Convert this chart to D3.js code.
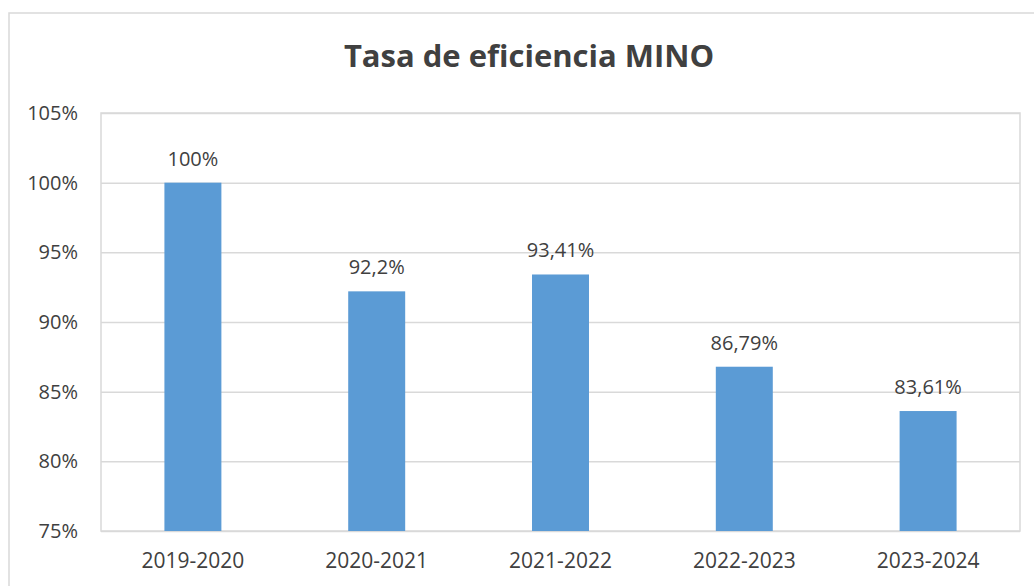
<!DOCTYPE html>
<html>
<head>
<meta charset="utf-8">
<script src="https://cdn.jsdelivr.net/npm/d3@7"></script>
<style>
  html, body { margin: 0; padding: 0; background: #fff; }
  svg { display: block; }
</style>
</head>
<body>
<div id="chart"></div>
<script>
// Tasa de eficiencia MINO -- simple column chart

var categories = ['2019-2020', '2020-2021', '2021-2022', '2022-2023', '2023-2024'];
var values = [100, 92.2, 93.41, 86.79, 83.61];
var valueLabels = ['100%', '92,2%', '93,41%', '86,79%', '83,61%'];
var yTicks = [75, 80, 85, 90, 95, 100, 105];

var WIDTH = 1034;
var HEIGHT = 586;
var PLOT_LEFT = 101;
var PLOT_RIGHT = 1020;
var PLOT_TOP = 113;
var PLOT_BOTTOM = 531;
var FONT = '"Open Sans", "DejaVu Sans", sans-serif';
var TEXT_COLOR = '#404040';
var GRID_COLOR = '#d9d9d9';
var BAR_COLOR = '#5b9bd5';

var svg = d3.select('#chart').append('svg')
  .attr('width', WIDTH)
  .attr('height', HEIGHT)
  .style('font-family', FONT);

// outer chart frame (runs off the right and bottom edges in the reference)
svg.append('rect')
  .attr('x', 9)
  .attr('y', 13)
  .attr('width', 1045)
  .attr('height', 600)
  .attr('fill', '#fff')
  .attr('stroke', GRID_COLOR)
  .attr('stroke-width', 1.5);

svg.append('text')
  .attr('x', 529)
  .attr('y', 67)
  .attr('text-anchor', 'middle')
  .attr('fill', TEXT_COLOR)
  .attr('font-size', '31px')
  .attr('font-weight', 'bold')
  .text('Tasa de eficiencia MINO');

var x = d3.scaleBand()
  .domain(categories)
  .range([PLOT_LEFT, PLOT_RIGHT])
  .paddingInner(0.69)
  .paddingOuter(0.345);

var y = d3.scaleLinear()
  .domain([75, 105])
  .range([PLOT_BOTTOM, PLOT_TOP]);

// gridlines + y labels
var yAxis = d3.axisLeft(y)
  .tickValues(yTicks)
  .tickSize(-(PLOT_RIGHT - PLOT_LEFT))
  .tickPadding(23)
  .tickFormat(function(d) { return d + '%'; });

var yG = svg.append('g')
  .attr('transform', 'translate(' + PLOT_LEFT + ',0)')
  .call(yAxis);
yG.select('.domain').remove();
yG.selectAll('.tick line')
  .attr('stroke', GRID_COLOR)
  .attr('stroke-width', 1.5);
yG.selectAll('.tick text')
  .attr('fill', TEXT_COLOR)
  .attr('font-size', '20px')
  .attr('font-family', FONT);

// plot area border
svg.append('rect')
  .attr('x', PLOT_LEFT)
  .attr('y', PLOT_TOP)
  .attr('width', PLOT_RIGHT - PLOT_LEFT)
  .attr('height', PLOT_BOTTOM - PLOT_TOP)
  .attr('fill', 'none')
  .attr('stroke', GRID_COLOR)
  .attr('stroke-width', 1.5);

// bars
svg.append('g').selectAll('rect')
  .data(values)
  .enter().append('rect')
  .attr('x', function(d, i) { return x(categories[i]); })
  .attr('y', function(d) { return y(d); })
  .attr('width', x.bandwidth())
  .attr('height', function(d) { return y(75) - y(d); })
  .attr('fill', BAR_COLOR);

// value labels
svg.append('g').selectAll('text')
  .data(values)
  .enter().append('text')
  .attr('x', function(d, i) { return x(categories[i]) + x.bandwidth() / 2; })
  .attr('y', function(d) { return y(d) - 17; })
  .attr('text-anchor', 'middle')
  .attr('fill', TEXT_COLOR)
  .attr('font-size', '20px')
  .text(function(d, i) { return valueLabels[i]; });

// x axis labels
var xAxis = d3.axisBottom(x).tickSize(0).tickPadding(22);
var xG = svg.append('g')
  .attr('transform', 'translate(0,' + PLOT_BOTTOM + ')')
  .call(xAxis);
xG.select('.domain').remove();
xG.selectAll('.tick text')
  .attr('fill', TEXT_COLOR)
  .attr('font-size', '21px')
  .attr('font-family', FONT);
</script>
</body>
</html>
